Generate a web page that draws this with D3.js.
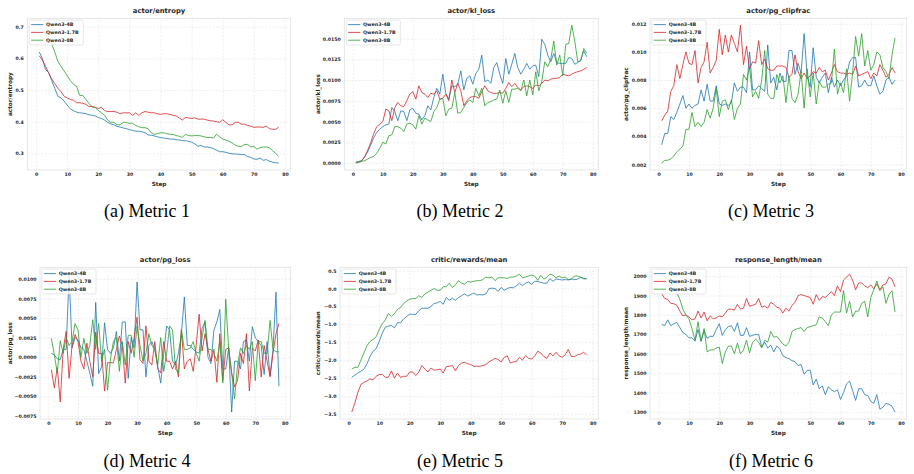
<!DOCTYPE html>
<html><head><meta charset="utf-8">
<script src="https://cdn.jsdelivr.net/npm/d3@7"></script>
<style>body{margin:0;background:#fff} svg{display:block}</style>
</head><body><svg id="c" width="914" height="474"></svg>
<script>
// ---------------- DATA ----------------
const steps = d3.range(1, 79);
const seriesNames = ["Qwen3-4B", "Qwen3-1.7B", "Qwen3-8B"];
const xTicks = [0, 10, 20, 30, 40, 50, 60, 70, 80];

const entropy4B = [0.620,0.600,0.565,0.555,0.530,0.505,0.480,0.475,0.465,0.452,
0.440,0.435,0.430,0.428,0.427,0.425,0.422,0.420,0.418,0.413,
0.410,0.405,0.398,0.393,0.390,0.385,0.383,0.380,0.378,0.375,
0.372,0.370,0.370,0.368,0.365,0.358,0.357,0.355,0.352,0.350,
0.348,0.347,0.345,0.345,0.343,0.342,0.340,0.340,0.338,0.335,
0.330,0.322,0.325,0.320,0.320,0.318,0.315,0.310,0.305,0.305,
0.303,0.300,0.298,0.298,0.297,0.296,0.296,0.290,0.287,0.282,
0.281,0.285,0.278,0.280,0.275,0.272,0.270,0.269];
const entropy17B = [0.608,0.595,0.575,0.555,0.535,0.520,0.505,0.495,0.480,0.475,
0.470,0.468,0.460,0.460,0.458,0.455,0.448,0.448,0.445,0.442,
0.445,0.435,0.432,0.432,0.432,0.430,0.425,0.428,0.428,0.428,
0.420,0.428,0.420,0.428,0.432,0.430,0.428,0.428,0.425,0.423,
0.425,0.425,0.423,0.420,0.418,0.412,0.405,0.413,0.412,0.410,
0.412,0.408,0.408,0.408,0.405,0.403,0.402,0.400,0.398,0.406,
0.398,0.390,0.390,0.398,0.398,0.392,0.392,0.388,0.386,0.382,
0.383,0.383,0.382,0.386,0.378,0.376,0.376,0.383];
const entropy8B = [0.705,0.690,0.675,0.660,0.645,0.620,0.590,0.575,0.560,0.545,
0.530,0.518,0.512,0.483,0.483,0.470,0.458,0.446,0.445,0.435,
0.428,0.420,0.405,0.398,0.398,0.390,0.390,0.398,0.397,0.395,
0.395,0.388,0.384,0.381,0.381,0.378,0.365,0.360,0.362,0.365,
0.365,0.362,0.360,0.360,0.356,0.354,0.350,0.360,0.356,0.355,
0.356,0.356,0.355,0.352,0.350,0.350,0.348,0.360,0.352,0.345,
0.342,0.338,0.333,0.326,0.322,0.322,0.328,0.328,0.320,0.322,
0.313,0.318,0.320,0.320,0.318,0.308,0.300,0.290];

const kl4B = [0.0001,0.0002,0.0003,0.0008,0.0014,0.0022,0.0031,0.0037,0.0041,0.0044,
0.0046,0.0047,0.0067,0.0062,0.0051,0.0063,0.0062,0.0051,0.0064,0.0066,
0.0060,0.0059,0.0052,0.0057,0.0069,0.0064,0.0079,0.0090,0.0083,0.0107,
0.0084,0.0077,0.0093,0.0092,0.0095,0.0111,0.0088,0.0102,0.0105,0.0095,
0.0108,0.0113,0.0130,0.0098,0.0100,0.0096,0.0115,0.0121,0.0107,0.0096,
0.0126,0.0107,0.0119,0.0132,0.0115,0.0107,0.0113,0.0120,0.0113,0.0117,
0.0118,0.0104,0.0149,0.0143,0.0130,0.0122,0.0132,0.0121,0.0120,0.0120,
0.0120,0.0127,0.0126,0.0119,0.0121,0.0124,0.0135,0.0128];
const kl17B = [0.0001,0.0001,0.0003,0.0008,0.0016,0.0025,0.0036,0.0044,0.0047,0.0050,
0.0065,0.0063,0.0051,0.0067,0.0073,0.0069,0.0068,0.0075,0.0083,0.0086,
0.0077,0.0093,0.0085,0.0083,0.0079,0.0084,0.0083,0.0087,0.0077,0.0078,
0.0083,0.0075,0.0100,0.0085,0.0096,0.0087,0.0069,0.0075,0.0079,0.0080,
0.0080,0.0078,0.0086,0.0093,0.0087,0.0085,0.0084,0.0084,0.0085,0.0084,
0.0090,0.0097,0.0092,0.0096,0.0091,0.0088,0.0092,0.0093,0.0092,0.0090,
0.0094,0.0093,0.0096,0.0100,0.0099,0.0101,0.0102,0.0102,0.0103,0.0107,
0.0106,0.0105,0.0107,0.0109,0.0110,0.0111,0.0113,0.0115];
const kl8B = [0.0000,0.0001,0.0002,0.0003,0.0005,0.0007,0.0008,0.0012,0.0018,0.0025,
0.0023,0.0033,0.0034,0.0044,0.0044,0.0042,0.0038,0.0047,0.0048,0.0046,
0.0041,0.0057,0.0047,0.0054,0.0052,0.0050,0.0062,0.0067,0.0077,0.0078,
0.0057,0.0065,0.0066,0.0085,0.0060,0.0061,0.0067,0.0073,0.0076,0.0073,
0.0090,0.0081,0.0090,0.0069,0.0073,0.0074,0.0076,0.0077,0.0088,0.0072,
0.0087,0.0073,0.0089,0.0089,0.0090,0.0087,0.0100,0.0081,0.0100,0.0082,
0.0110,0.0087,0.0098,0.0122,0.0116,0.0125,0.0147,0.0118,0.0130,0.0105,
0.0143,0.0144,0.0166,0.0147,0.0122,0.0123,0.0138,0.0132];

const clip4B = [0.0034,0.0042,0.0042,0.0054,0.0052,0.0057,0.0063,0.0069,0.0060,0.0063,
0.0060,0.0062,0.0063,0.0073,0.0065,0.0077,0.0065,0.0065,0.0076,0.0063,
0.0062,0.0063,0.0062,0.0064,0.0078,0.0072,0.0075,0.0075,0.0071,0.0100,
0.0073,0.0073,0.0076,0.0074,0.0072,0.0105,0.0078,0.0082,0.0073,0.0085,
0.0079,0.0079,0.0101,0.0101,0.0084,0.0092,0.0085,0.0113,0.0083,0.0075,
0.0103,0.0082,0.0078,0.0082,0.0085,0.0071,0.0082,0.0075,0.0080,0.0076,
0.0080,0.0083,0.0093,0.0096,0.0096,0.0075,0.0076,0.0080,0.0076,0.0076,
0.0083,0.0076,0.0070,0.0072,0.0080,0.0082,0.0077,0.0080];
const clip17B = [0.0051,0.0055,0.0058,0.0072,0.0076,0.0091,0.0081,0.0091,0.0100,0.0092,
0.0091,0.0101,0.0078,0.0089,0.0093,0.0107,0.0085,0.0089,0.0094,0.0116,
0.0098,0.0112,0.0100,0.0112,0.0106,0.0100,0.0119,0.0091,0.0104,0.0088,
0.0093,0.0092,0.0108,0.0091,0.0095,0.0088,0.0087,0.0087,0.0090,0.0090,
0.0090,0.0089,0.0082,0.0084,0.0098,0.0086,0.0081,0.0085,0.0081,0.0083,
0.0086,0.0085,0.0089,0.0086,0.0087,0.0080,0.0085,0.0091,0.0086,0.0085,
0.0085,0.0084,0.0085,0.0084,0.0090,0.0083,0.0084,0.0085,0.0086,0.0081,
0.0085,0.0083,0.0091,0.0087,0.0082,0.0084,0.0089,0.0085];
const clip8B = [0.0021,0.0023,0.0023,0.0024,0.0026,0.0029,0.0031,0.0033,0.0045,0.0045,
0.0057,0.0047,0.0050,0.0047,0.0050,0.0059,0.0053,0.0060,0.0074,0.0054,
0.0065,0.0066,0.0059,0.0066,0.0052,0.0060,0.0063,0.0084,0.0080,0.0089,
0.0068,0.0072,0.0067,0.0080,0.0101,0.0070,0.0067,0.0067,0.0084,0.0078,
0.0083,0.0064,0.0083,0.0067,0.0064,0.0070,0.0086,0.0060,0.0088,0.0068,
0.0085,0.0063,0.0079,0.0075,0.0075,0.0077,0.0078,0.0102,0.0070,0.0078,
0.0071,0.0088,0.0065,0.0085,0.0111,0.0097,0.0113,0.0090,0.0101,0.0087,
0.0091,0.0100,0.0098,0.0089,0.0086,0.0081,0.0098,0.0110];

const pg4B = [0.0005,0.0003,-0.0002,-0.0003,0.0010,0.0010,0.0106,0.0012,0.0025,0.0022,
0.0012,0.0010,-0.0005,-0.0020,-0.0037,0.0070,-0.0021,-0.0012,0.0044,0.0010,
0.0005,0.0012,0.0033,-0.0005,0.0045,0.0045,-0.0027,0.0025,0.0012,0.0096,
0.0035,0.0035,-0.0025,0.0015,0.0020,0.0010,-0.0012,-0.0033,0.0005,0.0040,
0.0035,-0.0005,-0.0010,0.0005,0.0030,0.0077,0.0015,0.0015,0.0010,0.0007,
0.0005,0.0037,0.0045,0.0000,-0.0008,0.0035,0.0045,0.0061,-0.0015,-0.0015,
0.0012,-0.0070,-0.0005,-0.0005,-0.0015,0.0020,0.0022,-0.0005,0.0039,0.0025,
0.0020,0.0015,-0.0022,0.0020,-0.0024,0.0010,0.0083,-0.0037];
const pg17B = [-0.0016,-0.0039,-0.0013,-0.0057,0.0010,0.0033,-0.0027,0.0015,0.0029,0.0020,
-0.0005,-0.0015,0.0018,-0.0005,-0.0025,0.0032,0.0005,0.0005,-0.0043,-0.0007,
-0.0007,-0.0007,0.0010,0.0027,0.0015,-0.0033,0.0020,0.0005,0.0025,0.0051,
-0.0003,-0.0008,0.0040,-0.0005,-0.0010,0.0020,-0.0015,-0.0020,0.0020,-0.0005,
-0.0005,-0.0015,-0.0005,-0.0025,0.0035,-0.0015,-0.0005,-0.0002,-0.0018,0.0015,
0.0055,0.0008,0.0030,0.0010,-0.0005,0.0010,-0.0032,0.0030,-0.0030,0.0010,
0.0012,-0.0020,-0.0038,-0.0030,0.0005,-0.0008,0.0030,-0.0043,0.0012,0.0008,
0.0022,-0.0025,0.0015,-0.0005,-0.0025,0.0005,0.0030,0.0043];
const pg8B = [0.0024,0.0003,-0.0020,0.0021,0.0005,0.0025,0.0015,0.0020,0.0043,0.0035,
0.0000,0.0024,0.0005,0.0015,0.0048,0.0010,0.0043,-0.0005,0.0010,-0.0042,
-0.0002,0.0020,0.0025,-0.0018,0.0020,-0.0010,0.0028,0.0028,0.0000,0.0040,
0.0015,-0.0005,0.0005,0.0030,0.0015,0.0010,-0.0010,0.0025,-0.0018,0.0005,
0.0040,0.0035,-0.0015,-0.0020,0.0035,0.0010,0.0010,0.0012,0.0020,0.0005,
-0.0005,0.0025,0.0047,0.0010,0.0010,0.0005,-0.0005,0.0020,-0.0033,0.0074,
0.0010,-0.0020,-0.0053,-0.0010,0.0012,0.0005,0.0015,0.0010,0.0020,-0.0030,
0.0020,0.0020,0.0005,0.0005,0.0047,0.0010,0.0007,0.0007];

const rew4B = [-2.48,-2.42,-2.36,-2.31,-2.25,-2.10,-1.90,-1.75,-1.68,-1.48,
-1.25,-1.08,-1.05,-1.03,-1.10,-0.95,-0.96,-0.85,-0.78,-0.72,
-0.72,-0.72,-0.62,-0.55,-0.55,-0.55,-0.50,-0.42,-0.40,-0.36,
-0.44,-0.25,-0.33,-0.27,-0.33,-0.25,-0.20,-0.15,-0.21,-0.17,
-0.13,-0.18,-0.17,-0.18,-0.15,0.00,0.01,0.00,-0.08,0.03,
-0.05,0.00,0.03,0.02,0.08,0.15,0.08,0.15,0.18,0.12,
0.20,0.20,0.17,0.15,0.15,0.28,0.20,0.27,0.25,0.24,
0.25,0.24,0.27,0.25,0.26,0.31,0.29,0.27];
const rew17B = [-3.45,-3.20,-2.90,-2.68,-2.62,-2.58,-2.52,-2.55,-2.45,-2.40,
-2.40,-2.48,-2.48,-2.30,-2.50,-2.36,-2.48,-2.45,-2.45,-2.33,
-2.33,-2.43,-2.33,-2.15,-2.25,-2.33,-2.22,-2.28,-2.27,-2.25,
-2.36,-2.18,-2.17,-2.15,-2.30,-2.15,-2.08,-2.06,-2.10,-2.12,
-2.17,-2.17,-2.17,-2.15,-2.12,-2.05,-2.00,-1.95,-1.98,-2.05,
-1.92,-1.88,-2.08,-2.05,-2.04,-1.92,-2.00,-1.87,-1.95,-1.97,
-1.88,-1.75,-1.80,-1.90,-1.95,-1.80,-1.88,-1.78,-1.88,-1.92,
-1.85,-1.70,-1.90,-1.90,-1.85,-1.83,-1.78,-1.85];
const rew8B = [-2.25,-2.20,-2.20,-2.00,-1.80,-1.60,-1.48,-1.42,-1.35,-1.15,
-0.98,-0.88,-0.70,-0.78,-0.70,-0.58,-0.53,-0.42,-0.35,-0.30,
-0.28,-0.28,-0.20,-0.25,-0.15,-0.10,-0.05,0.00,-0.05,-0.05,
0.05,0.05,0.15,0.03,0.10,0.22,0.15,0.12,0.20,0.18,
0.20,0.22,0.22,0.25,0.32,0.30,0.32,0.22,0.30,0.30,
0.30,0.28,0.32,0.32,0.35,0.40,0.30,0.32,0.35,0.37,
0.35,0.23,0.37,0.26,0.32,0.40,0.37,0.30,0.35,0.30,
0.32,0.25,0.25,0.35,0.35,0.32,0.27,0.27];

const len4B = [1752,1745,1775,1745,1755,1762,1735,1710,1700,1682,
1682,1665,1725,1665,1720,1680,1690,1690,1725,1755,
1695,1725,1740,1745,1715,1760,1695,1695,1735,1690,
1695,1700,1700,1635,1660,1630,1645,1610,1640,1625,
1590,1580,1575,1565,1560,1540,1545,1495,1515,1515,
1440,1470,1420,1435,1390,1430,1415,1405,1415,1365,
1400,1445,1460,1410,1360,1420,1420,1390,1385,1355,
1345,1390,1315,1325,1345,1340,1330,1300];
const len17B = [1910,1885,1880,1860,1858,1850,1820,1795,1800,1790,
1775,1780,1820,1785,1815,1770,1795,1780,1785,1795,
1790,1810,1830,1830,1825,1855,1830,1835,1885,1845,
1850,1855,1885,1840,1845,1835,1865,1855,1840,1835,
1810,1835,1820,1850,1865,1900,1905,1900,1895,1890,
1855,1905,1875,1895,1890,1905,1920,1900,1950,1920,
1980,1995,2010,1980,1930,1965,1965,1950,1940,1955,
1935,1960,1930,1955,1960,1995,1985,1945];
const len8B = [2000,1995,1985,1965,1945,1915,1880,1830,1800,1780,
1730,1670,1765,1665,1730,1610,1620,1620,1630,1635,
1550,1610,1640,1640,1600,1655,1600,1620,1670,1605,
1660,1675,1660,1630,1670,1660,1715,1685,1690,1670,
1650,1640,1660,1715,1725,1730,1735,1715,1735,1740,
1745,1750,1790,1785,1765,1745,1800,1815,1815,1815,
1925,1810,1870,1790,1820,1820,1860,1870,1790,1890,
1930,1975,1925,1945,1860,1905,1925,1815];

const titles = ["actor/entropy", "actor/kl_loss", "actor/pg_clipfrac",
                "actor/pg_loss", "critic/rewards/mean", "response_length/mean"];
const yLabels = titles;
const captions = ["(a) Metric 1", "(b) Metric 2", "(c) Metric 3",
                  "(d) Metric 4", "(e) Metric 5", "(f) Metric 6"];
const yTicksEntropy = [0.3, 0.4, 0.5, 0.6, 0.7];
const yTicksKl = [0.0000, 0.0025, 0.0050, 0.0075, 0.0100, 0.0125, 0.0150];
const yTicksClip = [0.002, 0.004, 0.006, 0.008, 0.010, 0.012];
const yTicksPg = [-0.0075, -0.0050, -0.0025, 0.0000, 0.0025, 0.0050, 0.0075, 0.0100];
const yTicksRew = [-3.5, -3.0, -2.5, -2.0, -1.5, -1.0, -0.5, 0.0, 0.5];
const yTicksLen = [1300, 1400, 1500, 1600, 1700, 1800, 1900, 2000];

// ---------------- LAYOUT / STYLE ----------------
const colors = ["#1f77b4", "#d62728", "#2ca02c"];
const panels = [
  {series:[entropy4B, entropy17B, entropy8B], ticks:yTicksEntropy, fmt:".1f",
   x0:27.3, x1:290.7, y0:18.3, y1:170, ylabX:10, capX:147, capY:216.5},
  {series:[kl4B, kl17B, kl8B], ticks:yTicksKl, fmt:".4f",
   x0:344.3, x1:598.3, y0:18.3, y1:170, ylabX:318.3, capX:460, capY:216.5},
  {series:[clip4B, clip17B, clip8B], ticks:yTicksClip, fmt:".3f",
   x0:650, x1:906.7, y0:18.3, y1:170, ylabX:625.7, capX:771, capY:216.5},
  {series:[pg4B, pg17B, pg8B], ticks:yTicksPg, fmt:".4f",
   x0:40, x1:290.3, y0:267.3, y1:419, ylabX:10, capX:147, capY:466.5},
  {series:[rew4B, rew17B, rew8B], ticks:yTicksRew, fmt:".1f",
   x0:340, x1:598.3, y0:267.3, y1:419, ylabX:317.7, capX:460, capY:466.5},
  {series:[len4B, len17B, len8B], ticks:yTicksLen, fmt:"d",
   x0:650, x1:906.7, y0:267.3, y1:419, ylabX:625.7, capX:771, capY:466.5}
];

const svg = d3.select("#c");
const FONT = "DejaVu Sans, sans-serif";

panels.forEach((p, i) => {
  const g = svg.append("g");
  const all = p.series.flat();
  const [mn, mx] = d3.extent(all);
  const pad = (mx - mn) * 0.05;
  const xPad = (steps[steps.length-1] - steps[0]) * 0.05;
  const x = d3.scaleLinear().domain([steps[0] - xPad, steps[steps.length-1] + xPad]).range([p.x0, p.x1]);
  const y = d3.scaleLinear().domain([mn - pad, mx + pad]).range([p.y1, p.y0]);

  // grid + tick labels
  const xAxisG = g.append("g").attr("transform", `translate(0,${p.y1})`)
    .call(d3.axisBottom(x).tickValues(xTicks).tickSize(-(p.y1 - p.y0)).tickPadding(2.5).tickFormat(d3.format("d")));
  const yAxisG = g.append("g").attr("transform", `translate(${p.x0},0)`)
    .call(d3.axisLeft(y).tickValues(p.ticks).tickSize(-(p.x1 - p.x0)).tickPadding(3.5).tickFormat(d3.format(p.fmt)));
  [xAxisG, yAxisG].forEach(a => {
    a.select(".domain").remove();
    a.selectAll(".tick line").attr("stroke", "#e3e3e3").attr("stroke-width", 0.6).attr("stroke-dasharray", "2,1.5");
    a.selectAll(".tick text").attr("font-family", FONT).attr("font-weight", "bold")
      .attr("font-size", 4.7).attr("fill", "#2a2a2a");
  });
  xAxisG.selectAll(".tick text").attr("dy", "0.71em");

  // frame
  g.append("rect").attr("x", p.x0).attr("y", p.y0).attr("width", p.x1 - p.x0).attr("height", p.y1 - p.y0)
    .attr("fill", "none").attr("stroke", "#e0e0e0").attr("stroke-width", 0.8);

  // lines
  const line = d3.line().x((d, k) => x(steps[k])).y(d => y(d));
  p.series.forEach((s, k) => {
    g.append("path").datum(s).attr("d", line).attr("fill", "none")
      .attr("stroke", colors[k]).attr("stroke-width", 0.95).attr("stroke-opacity", 0.85)
      .attr("stroke-linejoin", "round");
  });

  // title
  g.append("text").attr("x", (p.x0 + p.x1) / 2).attr("y", p.y0 - 5.8).attr("text-anchor", "middle")
    .attr("font-family", FONT).attr("font-weight", "bold").attr("font-size", 6.8).attr("fill", "#262626")
    .text(titles[i]);
  // x label
  g.append("text").attr("x", (p.x0 + p.x1) / 2).attr("y", p.y1 + 16.2).attr("text-anchor", "middle")
    .attr("font-family", FONT).attr("font-weight", "bold").attr("font-size", 5.7).attr("fill", "#262626")
    .text("Step");
  // y label
  g.append("text").attr("transform", `translate(${p.ylabX},${(p.y0 + p.y1) / 2}) rotate(-90)`)
    .attr("text-anchor", "middle").attr("dy", "0.35em")
    .attr("font-family", FONT).attr("font-weight", "bold").attr("font-size", 5.7).attr("fill", "#262626")
    .text(yLabels[i]);

  // legend
  const lx = p.x0 + 2, ly = p.y0 + 1.7;
  const lg = g.append("g");
  lg.append("rect").attr("x", lx).attr("y", ly).attr("width", 54).attr("height", 25).attr("rx", 1.5)
    .attr("fill", "#fff").attr("fill-opacity", 0.85).attr("stroke", "#d6d6d6").attr("stroke-width", 0.6);
  seriesNames.forEach((n, k) => {
    const yy = ly + 4.6 + k * 7.8;
    lg.append("line").attr("x1", lx + 1.8).attr("x2", lx + 14).attr("y1", yy).attr("y2", yy)
      .attr("stroke", colors[k]).attr("stroke-width", 0.95).attr("stroke-opacity", 0.85);
    lg.append("text").attr("x", lx + 16.7).attr("y", yy).attr("dy", "0.35em")
      .attr("font-family", FONT).attr("font-weight", "bold").attr("font-size", 4.8).attr("fill", "#262626")
      .text(n);
  });

  // caption
  svg.append("text").attr("x", p.capX).attr("y", p.capY).attr("text-anchor", "middle")
    .attr("font-family", "Liberation Serif, Times New Roman, serif").attr("font-size", 18).attr("fill", "#000")
    .text(captions[i]);
});
</script>
</body></html>
